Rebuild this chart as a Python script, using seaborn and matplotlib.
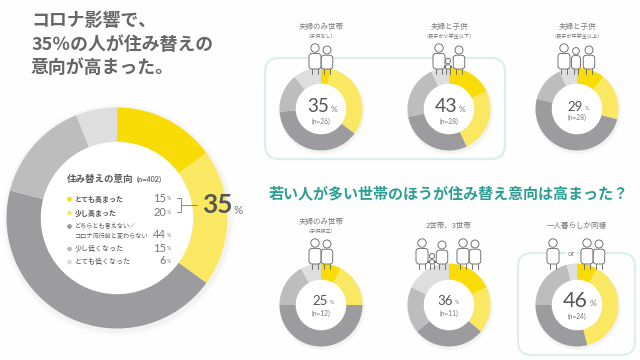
import matplotlib
matplotlib.use("Agg")
import matplotlib.pyplot as plt
from matplotlib.patches import Circle, FancyBboxPatch
import seaborn as sns

sns.set_theme(style="white")
JP = ["Noto Sans CJK JP", "DejaVu Sans"]
NUM = ["Lato", "Noto Sans CJK JP", "DejaVu Sans"]
plt.rcParams["font.family"] = JP

palette = sns.color_palette(["#F9DB05", "#FBE862", "#9C9C9E", "#BDBDBD", "#DEDEDE"])
categories = ["とても高まった", "少し高まった", "どちらとも言えない／\nコロナ流行前と変わらない", "少し低くなった", "とても低くなった"]
overall = [15, 20, 44, 15, 6]
title_lines = ["コロナ影響で、", "35％の人が住み替えの", "意向が高まった。"]
headline = "若い人が多い世帯のほうが住み替え意向は高まった？"

groups = ["夫婦のみ世帯", "夫婦と子供", "夫婦と子供", "夫婦のみ世帯", "2世帯、3世帯", "一人暮らしか同棲"]
subs = ["（子供なし）", "（長子が小学生以下）", "（長子が中学生以上）", "（子供独立）", "", ""]
pcts = [35, 43, 29, 25, 36, 46]
ns = [26, 28, 28, 12, 11, 24]
shares = [
    [4, 31, 39, 15, 11],
    [18, 25, 29, 21, 7],
    [11, 18, 50, 14, 7],
    [8, 17, 50, 17, 8],
    [18, 18, 28, 18, 18],
    [8, 38, 29, 21, 4],
]

W, H = 640, 360
fig = plt.figure(figsize=(6.4, 3.6), dpi=100, facecolor="#FEFEFE")
bg = fig.add_axes([0, 0, 1, 1])
bg.set_xlim(0, W); bg.set_ylim(H, 0); bg.axis("off")


def donut(values, cx, cy, R, ratio):
    for k, a in zip((1.05, 1.035, 1.02), (0.025, 0.03, 0.04)):
        bg.add_patch(Circle((cx + 1, cy + 2), R * k, fc="#888888", ec="none", alpha=a, zorder=1))
    ax = fig.add_axes([(cx - R) / W, 1 - (cy + R) / H, 2 * R / W, 2 * R / H], zorder=2)
    ax.pie(values, colors=palette, startangle=90, counterclock=False, radius=1,
           wedgeprops=dict(width=1 - ratio, linewidth=0))
    ax.add_patch(Circle((0, 0), ratio, fc="#FFFFFF", ec="none", zorder=0))
    ax.set_xlim(-1, 1); ax.set_ylim(-1, 1); ax.set_aspect("equal")
    ax.patch.set_alpha(0)


def box(x0, y0, x1, y1):
    bg.add_patch(FancyBboxPatch((x0 + 14, y0 + 14), x1 - x0 - 28, y1 - y0 - 28,
                                boxstyle="round,pad=14,rounding_size=14",
                                fc="none", ec="#DCEEEE", lw=1.6, zorder=1.5))


box(265, 58, 505, 159)
box(518, 253, 635, 355)

donut(overall, 117, 218, 110.5, 0.69)
centers = [(321, 109), (449, 109), (577, 109), (321, 305), (449, 305), (577, 305)]
for vals, (cx, cy) in zip(shares, centers):
    donut(vals, cx, cy, 41.5, 0.61)

top = fig.add_axes([0, 0, 1, 1], zorder=5)
top.set_xlim(0, W); top.set_ylim(H, 0); top.axis("off"); top.patch.set_alpha(0)
LINE = "#6A6A6A"


def person(cx, head_y, w, bottom, head_r=4.0):
    fc = "#FFFFFF"
    shoulder = head_y + head_r + 1.2
    leg = bottom - 5
    top.add_patch(FancyBboxPatch((cx - w / 2 + 2, shoulder + 2), w - 4, leg - shoulder - 4,
                                 boxstyle="round,pad=2,rounding_size=3", fc=fc, ec=LINE, lw=0.65))
    top.plot([cx - w / 4, cx - w / 4], [leg, bottom], color=LINE, lw=0.65)
    top.plot([cx + w / 4, cx + w / 4], [leg, bottom], color=LINE, lw=0.65)
    top.add_patch(Circle((cx, head_y), head_r, fc=fc, ec=LINE, lw=0.65))


for cx, hy, w, b, r in [(315, 48, 12, 74, 4.2), (327, 50, 11.5, 74, 4),
                        (439, 48, 12, 74, 4.2), (448, 61, 6.5, 74, 2.6), (459, 50, 11.5, 74, 4),
                        (564, 48, 12, 74, 4.2), (576, 51, 9, 74, 3.4), (589, 50, 11.5, 74, 4),
                        (315, 243, 12, 269, 4.2), (327, 244, 11.5, 269, 4),
                        (422, 243, 12, 269, 4.2), (432, 256, 6.5, 269, 2.6), (442, 245, 11.5, 269, 4),
                        (463, 243, 12, 269, 4.2), (475, 244, 11.5, 269, 4),
                        (553, 243, 12, 269, 4.2), (587, 243, 12, 269, 4.2), (599, 244, 11.5, 269, 4)]:
    person(cx, hy, w, b, r)

top.text(571, 254, "or", ha="center", va="center", fontsize=5.5, color="#777777", family=NUM,
         bbox=dict(fc="white", ec="none", pad=1))

# Title
for line, y in zip(title_lines, (21, 45, 68)):
    top.text(31, y, line, fontsize=12.9, fontweight="bold", color="#666666", va="center", ha="left")
top.text(449, 193, headline, fontsize=10.85, fontweight="bold", color="#2E9E92", va="center", ha="center")

# Legend inside the large donut
top.text(67, 179, "住み替えの意向", fontsize=6.8, fontweight="bold", color="#5A5A5A", va="center")
top.text(137, 179, "(n=402)", fontsize=5.2, color="#666666", va="center", family=NUM, fontweight="bold")
rows = [199, 213, 231, 249, 262]
for i, (cat, val, y) in enumerate(zip(categories, overall, rows)):
    dot_y = y - 4.5 if i == 2 else y
    top.add_patch(Circle((69.5, dot_y), 2.4, fc=palette[i], ec="none"))
    top.text(75, y, cat, fontsize=4.45 if i == 2 else 5.0, color="#555555", va="center", ha="left",
             linespacing=1.25, fontweight="bold" if i < 2 else "normal")
    vy = 235 if i == 2 else y - 1
    top.text(166, vy, str(val), fontsize=8, color="#777777", va="center", ha="right", family=NUM)
    top.text(166.5, vy + 0.5, "%", fontsize=3.8, color="#777777", va="center", ha="left", family=NUM)

top.plot([177, 181, 181, 177], [198, 198, 212, 212], color="#777777", lw=0.6)
top.plot([181, 197], [205, 205], color="#777777", lw=0.6)
top.text(232.5, 205, "35", fontsize=19, fontweight="bold", color="#555555", va="center", ha="right", family=NUM)
top.text(233, 210, "%", fontsize=8.5, color="#777777", va="center", ha="left", family=NUM)

# Small donut labels
sizes = [13.5, 14, 9.5, 9.5, 9.5, 15.5]
num_end = [329, 457, 583, 328, 453, 588]
num_y = [107, 107, 107, 301, 301, 301]
n_y = [121, 121, 117, 313, 313, 316]
lab_y = [27, 27, 27, 222, 226, 226]
for i, (g, s, p, n, (cx, cy)) in enumerate(zip(groups, subs, pcts, ns, centers)):
    fs = sizes[i]
    top.text(cx, lab_y[i], g, fontsize=5.4, color="#777777", ha="center", va="center")
    if s:
        top.text(cx, lab_y[i] + 9.5, s, fontsize=3.7, color="#777777", ha="center", va="center")
    top.text(num_end[i], num_y[i], str(p), fontsize=fs, color="#555555", ha="right", va="center", family=NUM)
    big = fs > 10
    top.text(num_end[i] + 1.5, num_y[i] + (3 if big else 2), "%", fontsize=6 if big else 3.8,
             color="#777777", ha="left", va="center", family=NUM)
    top.text(cx, n_y[i], f"(n={n})", fontsize=4.8, color="#777777", ha="center", va="center", family=NUM)

fig.savefig("out.png", dpi=100, facecolor=fig.get_facecolor())
